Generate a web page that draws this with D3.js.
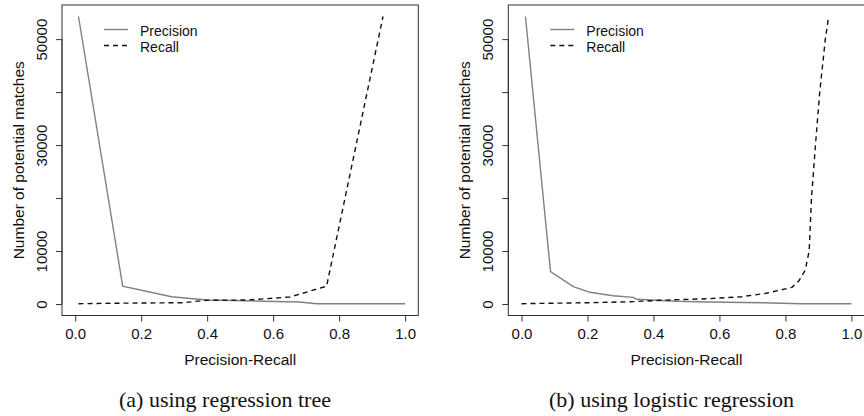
<!DOCTYPE html>
<html>
<head>
<meta charset="utf-8">
<script src="https://cdn.jsdelivr.net/npm/d3@7"></script>
<style>
  html, body { margin: 0; padding: 0; background: #fff; }
  svg { display: block; }
</style>
</head>
<body>
<svg id="chart" width="864" height="416"></svg>
<script>
// ---- data ----
const seriesNames = ["Precision", "Recall"];
const xTicks = [0.0, 0.2, 0.4, 0.6, 0.8, 1.0];
const yTicks = [0, 10000, 20000, 30000, 40000, 50000];
const yTickLabels = ["0", "10000", "", "30000", "", "50000"];
const captions = ["(a) using regression tree", "(b) using logistic regression"];

// panel (a): regression tree
const treePrecisionX = [0.01, 0.144, 0.292, 0.398, 0.519, 0.57, 0.68, 0.731, 1.0];
const treePrecisionY = [54270, 3350, 1380, 756, 624, 510, 378, 60, 60];
const treeRecallX = [0.01, 0.15, 0.327, 0.398, 0.52, 0.65, 0.762, 0.933];
const treeRecallY = [60, 160, 250, 700, 750, 1320, 3350, 54270];

// panel (b): logistic regression
const logPrecisionX = [0.012, 0.088, 0.157, 0.2075, 0.278, 0.339, 0.349, 0.47, 0.566, 0.732, 0.848, 1.0];
const logPrecisionY = [54270, 6100, 3270, 2210, 1570, 1260, 890, 510, 380, 250, 60, 60];
const logRecallX = [0.0, 0.2075, 0.339, 0.42, 0.566, 0.667, 0.742, 0.82, 0.84, 0.86, 0.872, 0.879, 0.891, 0.904, 0.921, 0.931];
const logRecallY = [60, 250, 440, 700, 1000, 1380, 2020, 3150, 4300, 6400, 10000, 20000, 30000, 40000, 50000, 54270];

// ---- layout ----
const svg = d3.select("#chart");
const font = "'Liberation Sans', Arial, sans-serif";
const serif = "'Liberation Serif', 'Times New Roman', serif";
const panels = [
  { left: 62, caption: captions[0], capX: 225, capSize: 22,
    prec: treePrecisionX.map((x, i) => [x, treePrecisionY[i]]),
    rec: treeRecallX.map((x, i) => [x, treeRecallY[i]]) },
  { left: 508.3, caption: captions[1], capX: 671.5, capSize: 22,
    prec: logPrecisionX.map((x, i) => [x, logPrecisionY[i]]),
    rec: logRecallX.map((x, i) => [x, logRecallY[i]]) }
];
const boxW = 356.3, boxTop = 5, boxBottom = 315.5;
const axisColor = "#333";
const textColor = "#111";

panels.forEach(p => {
  const g = svg.append("g");
  const x = d3.scaleLinear().domain([-0.04, 1.04]).range([p.left, p.left + boxW]);
  const y = d3.scaleLinear().domain([-2170, 56440]).range([boxBottom, boxTop]);

  // box
  g.append("rect").attr("x", p.left).attr("y", boxTop)
    .attr("width", boxW).attr("height", boxBottom - boxTop)
    .attr("fill", "none").attr("stroke", axisColor).attr("stroke-width", 1);

  // x axis
  const xa = g.append("g").attr("transform", `translate(0,${boxBottom})`)
    .call(d3.axisBottom(x).tickValues(xTicks).tickFormat(d3.format(".1f")).tickSize(6).tickPadding(7));
  xa.select(".domain").attr("d", `M${x(0)},0H${x(1)}`).attr("stroke", axisColor);
  xa.selectAll(".tick line").attr("stroke", axisColor);
  xa.selectAll("text").attr("font-family", font).attr("font-size", 15).attr("fill", textColor);

  // y axis
  const ya = g.append("g").attr("transform", `translate(${p.left},0)`)
    .call(d3.axisLeft(y).tickValues(yTicks).tickFormat((d, i) => yTickLabels[i]).tickSize(6));
  ya.select(".domain").attr("d", `M0,${y(0)}V${y(50000)}`).attr("stroke", axisColor);
  ya.selectAll(".tick line").attr("stroke", axisColor);
  ya.selectAll("text")
    .attr("font-family", font).attr("font-size", 15).attr("fill", textColor)
    .attr("text-anchor", "middle").attr("x", 0).attr("dy", null)
    .attr("transform", "translate(-20.5,0) rotate(-90)")
    .attr("dominant-baseline", "central");

  // axis titles
  g.append("text").attr("x", (x(0) + x(1)) / 2).attr("y", 365)
    .attr("text-anchor", "middle").attr("font-family", font).attr("font-size", 15.5)
    .attr("fill", textColor).text("Precision-Recall");
  g.append("text")
    .attr("transform", `translate(${p.left - 44},${(boxTop + boxBottom) / 2}) rotate(-90)`)
    .attr("text-anchor", "middle").attr("dominant-baseline", "central")
    .attr("font-family", font).attr("font-size", 15.5).attr("fill", textColor)
    .text("Number of potential matches");

  // lines
  const line = d3.line().x(d => x(d[0])).y(d => y(d[1]));
  g.append("path").datum(p.prec).attr("d", line)
    .attr("fill", "none").attr("stroke", "#808080").attr("stroke-width", 1.4);
  g.append("path").datum(p.rec).attr("d", line)
    .attr("fill", "none").attr("stroke", "#111").attr("stroke-width", 1.4)
    .attr("stroke-dasharray", "5,4");

  // legend
  const lx = p.left + 42;
  [[29.5, "#808080", null], [45.5, "#111", "5,4"]].forEach((s, i) => {
    g.append("line").attr("x1", lx).attr("x2", lx + 24).attr("y1", s[0]).attr("y2", s[0])
      .attr("stroke", s[1]).attr("stroke-width", 1.4).attr("stroke-dasharray", s[2]);
    g.append("text").attr("x", p.left + 78).attr("y", s[0] + 1)
      .attr("dominant-baseline", "central").attr("font-family", font).attr("font-size", 14)
      .attr("fill", textColor).text(seriesNames[i]);
  });

  // caption
  g.append("text").attr("x", p.capX).attr("y", 407).attr("text-anchor", "middle")
    .attr("font-family", serif).attr("font-size", p.capSize)
    .attr("fill", textColor).text(p.caption);
});
</script>
</body>
</html>
